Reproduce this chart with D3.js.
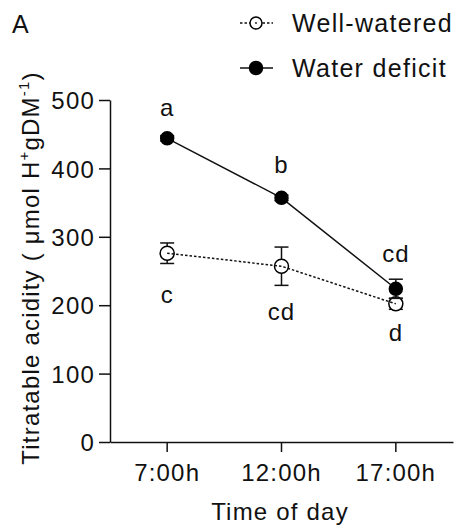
<!DOCTYPE html>
<html>
<head>
<meta charset="utf-8">
<script src="https://cdn.jsdelivr.net/npm/d3@7"></script>
<style>
  html, body { margin: 0; padding: 0; background: #fff; }
  svg text { font-family: "Liberation Sans", Arial, sans-serif; fill: #111; }
</style>
</head>
<body>
<svg id="chart" width="460" height="530"></svg>
<script>
// Titratable acidity by time of day
const times = ["7:00h", "12:00h", "17:00h"];
const yTicks = [0, 100, 200, 300, 400, 500];

const wellWatered = [276, 257, 202];
const wellWateredErr = [15, 28, 8];
const wellWateredLetters = ["c", "cd", "d"];

const deficit = [444, 357, 224];
const deficitErr = [4, 4, 14];
const deficitLetters = ["a", "b", "cd"];

// letter offsets (px) from each point
const wellLetterDy = [50, 54, 37];
const deficitLetterDy = [-22, -25, -27];

const svg = d3.select("#chart");
const FONT = 24;

const x = d3.scaleBand().domain(times).range([110, 453]).padding(0);
const y = d3.scaleLinear().domain([0, 500]).range([442, 100]);
const cx = t => x(t) + x.bandwidth() / 2;

// axes
const yAxis = svg.append("g")
  .attr("transform", "translate(110,0)")
  .call(d3.axisLeft(y).tickValues(yTicks).tickSize(11).tickSizeOuter(0).tickPadding(4));
const xAxis = svg.append("g")
  .attr("transform", "translate(0,442)")
  .call(d3.axisBottom(x).tickSize(10).tickSizeOuter(0).tickPadding(6));

[yAxis, xAxis].forEach(g => {
  g.select(".domain").attr("stroke", "#111").attr("stroke-width", 1.5);
  g.selectAll(".tick line").attr("stroke", "#111").attr("stroke-width", 1.5);
  g.selectAll(".tick text")
    .attr("font-size", FONT)
    .attr("letter-spacing", "1.2px")
    .attr("fill", "#111")
    .style("font-family", "'Liberation Sans', Arial, sans-serif");
});
yAxis.selectAll(".tick text").attr("dy", "0.36em");
xAxis.selectAll(".tick text").attr("dy", "0.95em");

// axis titles
svg.append("text")
  .attr("x", 280).attr("y", 520)
  .attr("text-anchor", "middle")
  .attr("font-size", FONT)
  .attr("letter-spacing", "1.2px")
  .text("Time of day");

const yt = svg.append("text")
  .attr("transform", "translate(39,268) rotate(-90)")
  .attr("text-anchor", "middle")
  .attr("font-size", FONT)
  .attr("letter-spacing", "1.2px");
yt.append("tspan").text("Titratable acidity ( μmol H");
yt.append("tspan").attr("font-size", 15).attr("dy", -10).text("+");
yt.append("tspan").attr("dy", 10).text("gDM");
yt.append("tspan").attr("font-size", 15).attr("dy", -10).text("-1");
yt.append("tspan").attr("dy", 10).text(")");

// panel letter
svg.append("text")
  .attr("x", 12).attr("y", 33)
  .attr("font-size", 25)
  .text("A");

// draws one series: error bars, line, markers and letters
function drawSeries(vals, errs, letters, dys, opts) {
  const g = svg.append("g");
  const pts = times.map((t, i) => ({ t, v: vals[i], e: errs[i], l: letters[i], dy: dys[i] }));

  const eb = g.selectAll("g.err").data(pts).join("g").attr("class", "err");
  eb.append("line")
    .attr("x1", d => cx(d.t)).attr("x2", d => cx(d.t))
    .attr("y1", d => y(d.v - d.e)).attr("y2", d => y(d.v + d.e))
    .attr("stroke", "#111").attr("stroke-width", 1.5);
  [-1, 1].forEach(s => {
    eb.append("line")
      .attr("x1", d => cx(d.t) - 7).attr("x2", d => cx(d.t) + 7)
      .attr("y1", d => y(d.v + s * d.e)).attr("y2", d => y(d.v + s * d.e))
      .attr("stroke", "#111").attr("stroke-width", 1.5);
  });

  const line = d3.line().x(d => cx(d.t)).y(d => y(d.v));
  const circles = () => g.selectAll("circle.pt").data(pts).join("circle")
    .attr("class", "pt")
    .attr("cx", d => cx(d.t)).attr("cy", d => y(d.v))
    .attr("r", opts.filled ? 6.5 : 7)
    .attr("fill", opts.filled ? "#000" : "#fff")
    .attr("stroke", "#000").attr("stroke-width", 1.5);
  const path = () => g.append("path").datum(pts)
    .attr("d", line).attr("fill", "none")
    .attr("stroke", "#111").attr("stroke-width", 1.5)
    .attr("stroke-dasharray", opts.dashed ? "2.5,2" : null);

  if (opts.filled) { path(); circles(); } else { circles(); path(); }

  g.selectAll("text.lt").data(pts).join("text")
    .attr("class", "lt")
    .attr("x", d => cx(d.t)).attr("y", d => y(d.v) + d.dy)
    .attr("text-anchor", "middle")
    .attr("font-size", FONT)
    .attr("letter-spacing", "1px")
    .text(d => d.l);
}

drawSeries(wellWatered, wellWateredErr, wellWateredLetters, wellLetterDy, { filled: false, dashed: true });
drawSeries(deficit, deficitErr, deficitLetters, deficitLetterDy, { filled: true, dashed: false });

// legend
const legend = [
  { name: "Well-watered", filled: false, dashed: true, cy: 23 },
  { name: "Water deficit", filled: true, dashed: false, cy: 68 }
];
const lg = svg.append("g").selectAll("g").data(legend).join("g");
lg.append("line")
  .attr("x1", 240).attr("x2", 273)
  .attr("y1", d => d.cy).attr("y2", d => d.cy)
  .attr("stroke", "#111").attr("stroke-width", 1.5)
  .attr("stroke-dasharray", d => d.dashed ? "2.5,2" : null);
lg.append("circle")
  .attr("cx", 256).attr("cy", d => d.cy)
  .attr("r", d => d.filled ? 6.5 : 6)
  .attr("fill", d => d.filled ? "#000" : "#fff")
  .attr("stroke", "#000").attr("stroke-width", 1.5);
lg.filter(d => !d.filled).append("circle")
  .attr("cx", 256).attr("cy", d => d.cy).attr("r", 0.9).attr("fill", "#111");
lg.append("text")
  .attr("x", 292).attr("y", d => d.cy + 9)
  .attr("font-size", 25)
  .attr("letter-spacing", "1.3px")
  .text(d => d.name);
</script>
</body>
</html>
